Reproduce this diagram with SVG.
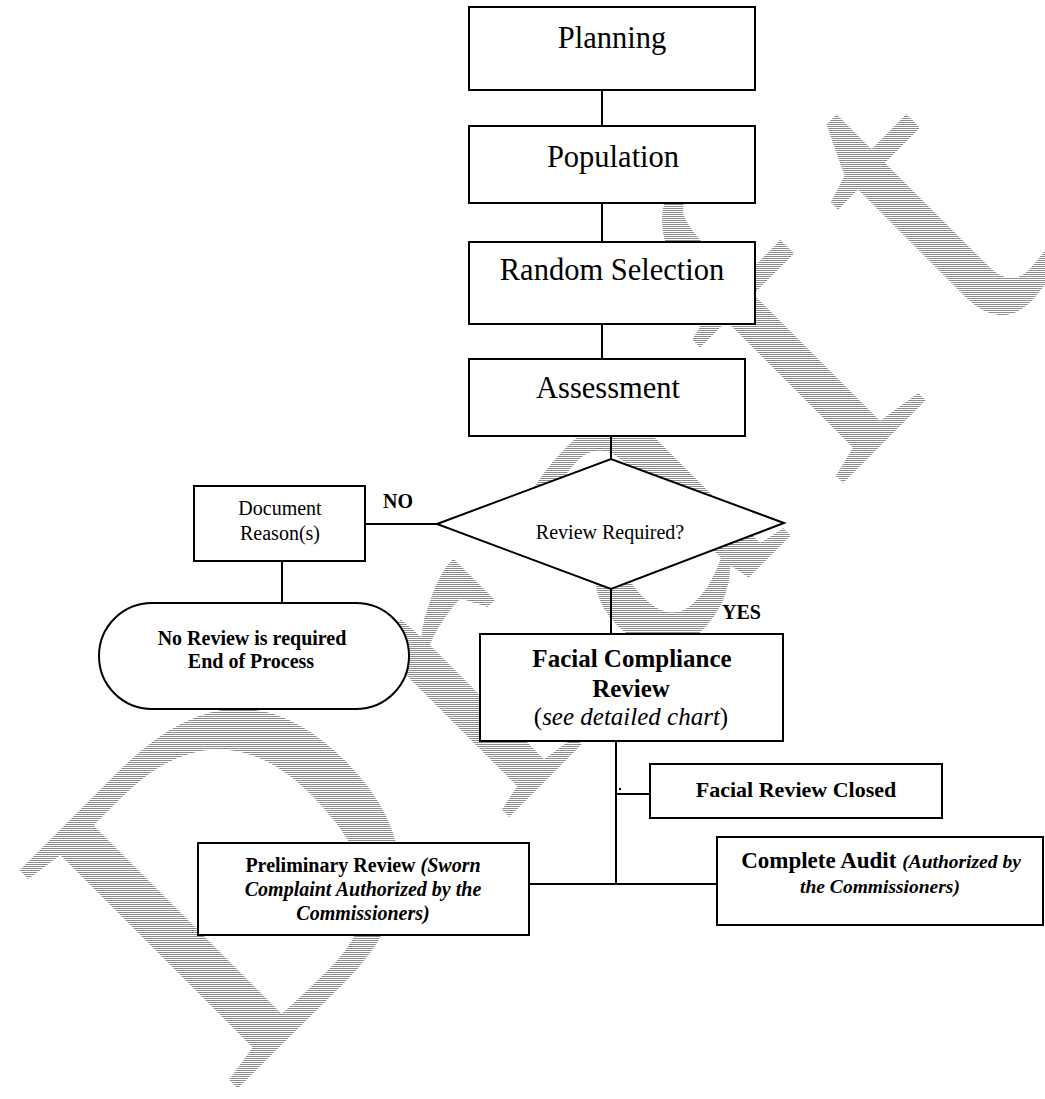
<svg xmlns="http://www.w3.org/2000/svg" width="1045" height="1099" viewBox="0 0 1045 1099">
<defs>
<pattern id="hatch" width="2" height="2" patternUnits="userSpaceOnUse" patternTransform="rotate(45)">
<rect x="0" y="0" width="2" height="1" fill="#8c8c8c"/>
</pattern>
<style>
.box{fill:#fff;stroke:#000;stroke-width:2}
.conn{stroke:#000;stroke-width:2;fill:none}
.t{font-family:"Liberation Serif","Times New Roman",serif;fill:#000}
.big{font-size:30.5px}
.mid{font-size:20px}
.b{font-weight:bold}
.i{font-style:italic}
.c{text-anchor:middle}
.wm{font-family:"Liberation Serif","Times New Roman",serif;font-size:471px;letter-spacing:48px;fill:url(#hatch)}
</style>
</defs>
<rect width="1045" height="1099" fill="#fff"/>
<g id="watermark">
<text class="wm" transform="translate(228,1098) rotate(-45)">Draft</text>
</g>
<g id="connectors">
<line class="conn" x1="602" y1="90" x2="602" y2="126"/>
<line class="conn" x1="602" y1="203" x2="602" y2="242"/>
<line class="conn" x1="602" y1="324" x2="602" y2="359"/>
<line class="conn" x1="611" y1="436" x2="611" y2="459"/>
<line class="conn" x1="365" y1="524" x2="437" y2="524"/>
<line class="conn" x1="282" y1="561" x2="282" y2="603"/>
<line class="conn" x1="611" y1="589" x2="611" y2="634"/>
<line class="conn" x1="616" y1="741" x2="616" y2="884"/>
<line class="conn" x1="616" y1="794" x2="650" y2="794"/>
<line class="conn" x1="529" y1="884" x2="717" y2="884"/>
<circle cx="620" cy="789" r="1.2" fill="#000"/>
<text class="t mid b" x="383" y="508">NO</text>
<text class="t mid b" x="722" y="619">YES</text>
</g>
<g id="planning">
<rect class="box" x="469" y="7" width="286" height="83"/>
<text class="t big c" x="612" y="48">Planning</text>
</g>
<g id="population">
<rect class="box" x="469" y="126" width="286" height="77"/>
<text class="t big c" x="613" y="167">Population</text>
</g>
<g id="random-selection">
<rect class="box" x="469" y="242" width="286" height="82"/>
<text class="t big c" x="612" y="280">Random Selection</text>
</g>
<g id="assessment">
<rect class="box" x="469" y="359" width="276" height="77"/>
<text class="t big c" x="608" y="398">Assessment</text>
</g>
<g id="review-required">
<polygon class="box" points="437,524 611,459 784,523 611,589"/>
<text class="t mid c" x="610" y="539">Review Required?</text>
</g>
<g id="document-reasons">
<rect class="box" x="194" y="486" width="171" height="75"/>
<text class="t mid c" x="280" y="515">Document</text>
<text class="t mid c" x="280" y="540">Reason(s)</text>
</g>
<g id="no-review">
<rect class="box" x="99" y="603" width="310" height="106" rx="53" ry="53"/>
<text class="t mid b c" x="252" y="645">No Review is required</text>
<text class="t mid b c" x="251" y="668">End of Process</text>
</g>
<g id="facial-compliance-review">
<rect class="box" x="480" y="634" width="303" height="107"/>
<text class="t b c" style="font-size:25px" x="632" y="667">Facial Compliance</text>
<text class="t b c" style="font-size:25px" x="631" y="697">Review</text>
<text class="t c" style="font-size:25px" x="631" y="725">(<tspan class="i">see detailed chart</tspan>)</text>
</g>
<g id="facial-review-closed">
<rect class="box" x="650" y="764" width="292" height="54"/>
<text class="t b c" style="font-size:22px" x="796" y="797">Facial Review Closed</text>
</g>
<g id="preliminary-review">
<rect class="box" x="198" y="843" width="331" height="92"/>
<text class="t b c mid" x="363" y="872">Preliminary Review <tspan class="i">(Sworn</tspan></text>
<text class="t b i c mid" x="363" y="896">Complaint Authorized by the</text>
<text class="t b i c mid" x="363" y="920">Commissioners)</text>
</g>
<g id="complete-audit">
<rect class="box" x="717" y="837" width="326" height="88"/>
<text class="t b c" style="font-size:23px" x="881" y="868">Complete Audit <tspan class="i" style="font-size:19.5px">(Authorized by</tspan></text>
<text class="t b i c" style="font-size:19.5px" x="880" y="893">the Commissioners)</text>
</g>
</svg>
